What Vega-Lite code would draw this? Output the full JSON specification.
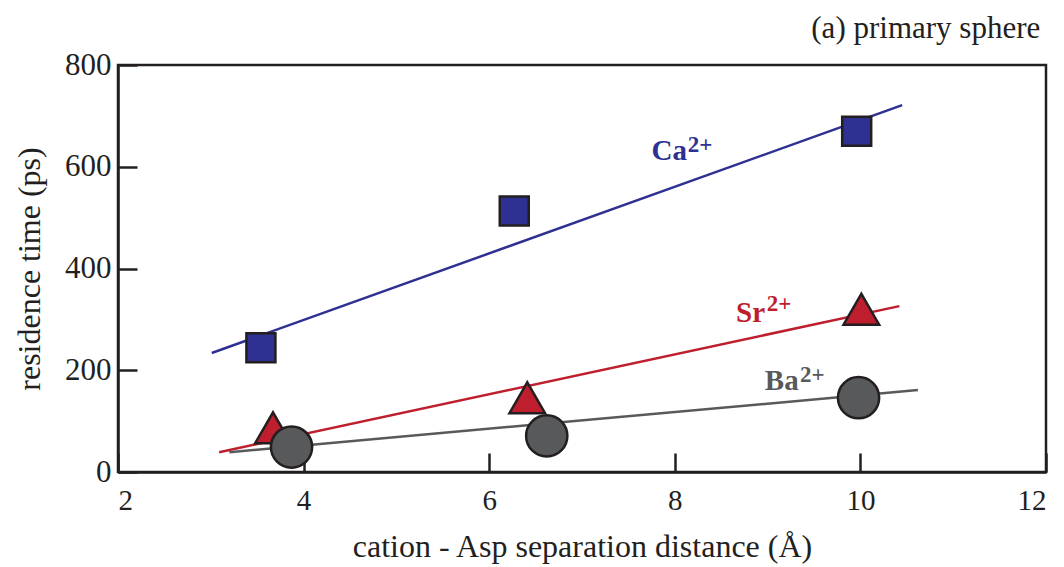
{
  "$schema": "https://vega.github.io/schema/vega-lite/v6.json",
  "width": 928,
  "height": 407,
  "autosize": {"type": "none"},
  "padding": {"left": 118, "top": 65, "right": 18, "bottom": 95},
  "background": "white",
  "config": {
    "font": "Liberation Serif",
    "view": {"stroke": "#231F20", "strokeWidth": 2.5},
    "axis": {
      "grid": false,
      "domainColor": "#231F20",
      "domainWidth": 2.5,
      "tickColor": "#231F20",
      "tickWidth": 2.5,
      "tickSize": -19,
      "labelFont": "Liberation Serif",
      "labelColor": "#231F20",
      "titleFont": "Liberation Serif",
      "titleFontSize": 32,
      "titleFontWeight": "normal",
      "titleColor": "#231F20"
    }
  },
  "title": {
    "text": "(a) primary sphere",
    "anchor": "end",
    "orient": "top",
    "font": "Liberation Serif",
    "fontSize": 31,
    "fontWeight": "normal",
    "color": "#231F20",
    "baseline": "alphabetic",
    "offset": 28,
    "dy": 48,
    "dx": -7
  },
  "datasets": {
    "points": [
      {"ion": "Ca", "distance": 3.54, "time": 244},
      {"ion": "Ca", "distance": 6.27, "time": 513},
      {"ion": "Ca", "distance": 9.96, "time": 670},
      {"ion": "Sr", "distance": 3.67, "time": 87},
      {"ion": "Sr", "distance": 6.41, "time": 146},
      {"ion": "Sr", "distance": 10.01, "time": 320},
      {"ion": "Ba", "distance": 3.87, "time": 49},
      {"ion": "Ba", "distance": 6.62, "time": 71},
      {"ion": "Ba", "distance": 9.98, "time": 146}
    ],
    "fits": [
      {"ion": "Ca", "distance": 3.01, "time": 234},
      {"ion": "Ca", "distance": 10.45, "time": 721},
      {"ion": "Sr", "distance": 3.09, "time": 39},
      {"ion": "Sr", "distance": 10.42, "time": 326},
      {"ion": "Ba", "distance": 3.2, "time": 39},
      {"ion": "Ba", "distance": 10.62, "time": 161}
    ],
    "labels": [
      {"ion": "Ca", "part": "base", "text": "Ca", "distance": 7.75, "time": 613},
      {"ion": "Ca", "part": "sup", "text": "2+", "distance": 8.14, "time": 629},
      {"ion": "Sr", "part": "base", "text": "Sr", "distance": 8.66, "time": 295},
      {"ion": "Sr", "part": "sup", "text": "2+", "distance": 8.99, "time": 316},
      {"ion": "Ba", "part": "base", "text": "Ba", "distance": 8.97, "time": 161},
      {"ion": "Ba", "part": "sup", "text": "2+", "distance": 9.35, "time": 177}
    ]
  },
  "encoding": {
    "x": {
      "field": "distance",
      "type": "quantitative",
      "scale": {"domain": [2, 12], "nice": false, "zero": false},
      "axis": {
        "title": "cation - Asp separation distance (Å)",
        "values": [2, 4, 6, 8, 10, 12],
        "labelFontSize": 29,
        "labelPadding": 33,
        "titleBaseline": "alphabetic",
        "titleY": 84
      }
    },
    "y": {
      "field": "time",
      "type": "quantitative",
      "scale": {"domain": [0, 800], "nice": false},
      "axis": {
        "title": "residence time (ps)",
        "values": [0, 200, 400, 600, 800],
        "labelFontSize": 31,
        "labelPadding": 26,
        "titleBaseline": "middle",
        "titleX": -89,
        "titleY": 203.5
      }
    },
    "color": {
      "field": "ion",
      "type": "nominal",
      "scale": {"domain": ["Ca", "Sr", "Ba"], "range": ["#2E3192", "#BE1E2D", "#58595B"]},
      "legend": null
    }
  },
  "layer": [
    {
      "data": {"name": "fits"},
      "mark": {"type": "line", "strokeWidth": 2.5},
      "encoding": {"detail": {"field": "ion"}}
    },
    {
      "data": {"name": "points"},
      "mark": {"type": "point", "filled": true, "opacity": 1, "stroke": "#231F20", "strokeWidth": 2.5},
      "encoding": {
        "shape": {
          "field": "ion",
          "type": "nominal",
          "scale": {"domain": ["Ca", "Sr", "Ba"], "range": ["square", "triangle-up", "circle"]},
          "legend": null
        },
        "size": {
          "field": "ion",
          "type": "nominal",
          "scale": {"domain": ["Ca", "Sr", "Ba"], "range": [841, 1700, 1296]},
          "legend": null
        },
        "fill": {
          "field": "ion",
          "type": "nominal",
          "scale": {"domain": ["Ca", "Sr", "Ba"], "range": ["#2E3192", "#BE1E2D", "#58595B"]},
          "legend": null
        }
      }
    },
    {
      "data": {"name": "labels"},
      "transform": [{"filter": "datum.part === 'base'"}],
      "mark": {"type": "text", "align": "left", "baseline": "alphabetic", "fontWeight": "bold", "fontSize": 29, "font": "Liberation Serif"},
      "encoding": {"text": {"field": "text"}}
    },
    {
      "data": {"name": "labels"},
      "transform": [{"filter": "datum.part === 'sup'"}],
      "mark": {"type": "text", "align": "left", "baseline": "alphabetic", "fontWeight": "bold", "fontSize": 23, "font": "Liberation Serif"},
      "encoding": {"text": {"field": "text"}}
    }
  ]
}
